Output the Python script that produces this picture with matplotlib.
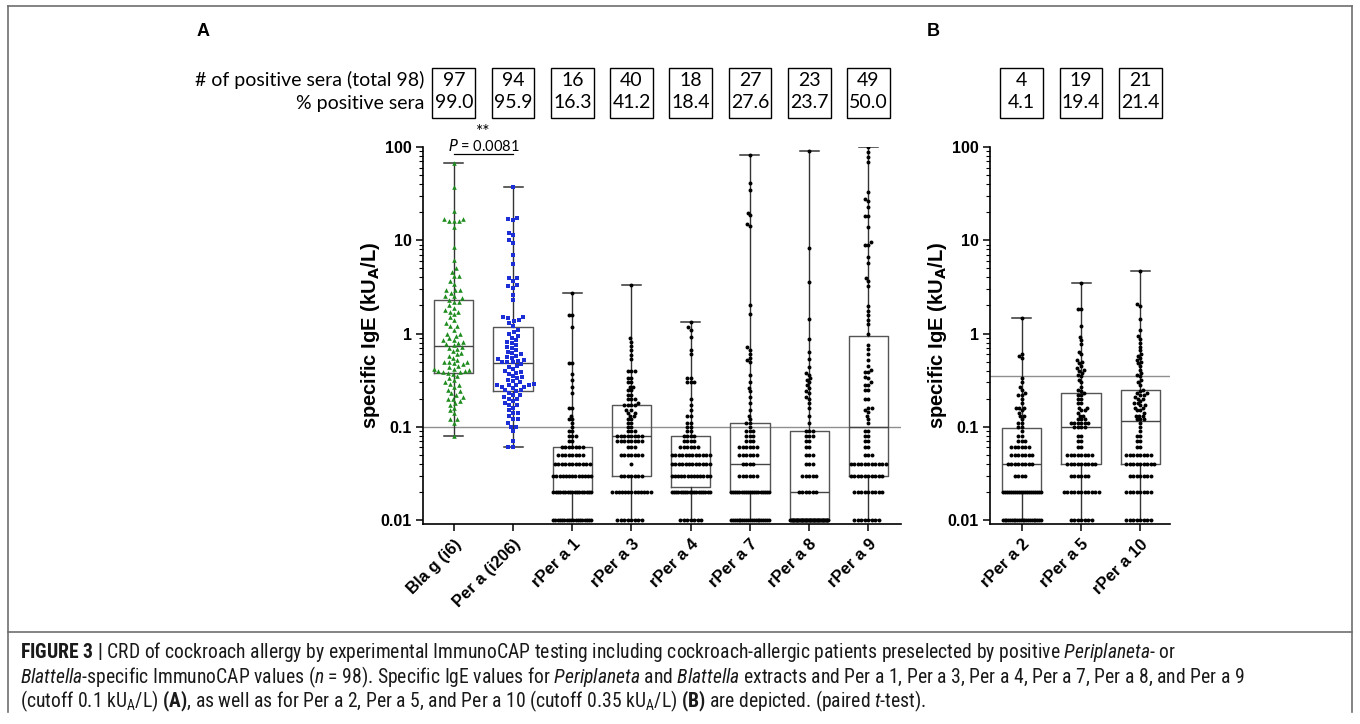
import numpy as np
import matplotlib
matplotlib.use("Agg")
import matplotlib.pyplot as plt
from matplotlib import font_manager
from matplotlib.patches import Rectangle
from matplotlib.transforms import blended_transform_factory
from matplotlib.ticker import FixedLocator, LogLocator, NullFormatter

# ---------------- data ----------------
cats_a = ["Bla g (i6)", "Per a (i206)", "rPer a 1", "rPer a 3", "rPer a 4",
          "rPer a 7", "rPer a 8", "rPer a 9"]
cats_b = ["rPer a 2", "rPer a 5", "rPer a 10"]

n_pos_a = [97, 94, 16, 40, 18, 27, 23, 49]
pct_pos_a = [99.0, 95.9, 16.3, 41.2, 18.4, 27.6, 23.7, 50.0]
n_pos_b = [4, 19, 21]
pct_pos_b = [4.1, 19.4, 21.4]

cutoff_a = 0.1
cutoff_b = 0.35

bla_g = [68, 37.5, 20.6, 17, 17, 16, 16, 16, 14, 8.5, 6.2, 5.0, 4.6, 4.1, 4.1, 3.7,
         3.4, 2.9, 2.9, 2.9, 2.75, 2.5, 2.5, 2.4,
         2.3, 2.2, 2.2, 2.0, 1.9, 1.8, 1.7, 1.7, 1.6, 1.5, 1.4, 1.3, 1.2, 1.2, 1.1,
         1.0, 1.0, 0.95, 0.9, 0.85, 0.85, 0.82, 0.8, 0.78,
         0.75, 0.72, 0.7, 0.68, 0.65, 0.62, 0.6, 0.58, 0.55, 0.52, 0.5, 0.5, 0.5,
         0.48, 0.47, 0.45, 0.44, 0.42, 0.42, 0.41, 0.4, 0.4, 0.39, 0.39, 0.38,
         0.37, 0.35, 0.33, 0.32, 0.3, 0.29, 0.28, 0.27, 0.25, 0.24, 0.23, 0.22,
         0.21, 0.2, 0.2, 0.19, 0.18, 0.17, 0.16, 0.15, 0.14, 0.12, 0.12, 0.11, 0.08]

per_a = [37, 17.5, 17, 16.5, 12, 11.5, 10, 9.3, 6.9, 5.5, 3.9, 3.9, 3.7, 3.3, 3.2,
         3.1, 2.6, 2.3, 1.5, 1.5, 1.45, 1.4, 1.35, 1.3,
         1.2, 1.1, 1.05, 1.0, 0.95, 0.9, 0.85, 0.82, 0.8, 0.75, 0.72, 0.7, 0.66,
         0.64, 0.62, 0.6, 0.58, 0.56, 0.55, 0.53, 0.52, 0.51, 0.5, 0.49,
         0.49, 0.47, 0.45, 0.44, 0.42, 0.4, 0.39, 0.38, 0.37, 0.35, 0.34, 0.33,
         0.32, 0.31, 0.3, 0.29, 0.28, 0.28, 0.28, 0.28, 0.27, 0.27, 0.26, 0.25, 0.25,
         0.24, 0.23, 0.22, 0.22, 0.21, 0.2, 0.2, 0.19, 0.18, 0.17, 0.17, 0.16, 0.15,
         0.14, 0.14, 0.13, 0.12, 0.12, 0.11, 0.1, 0.1, 0.09, 0.07, 0.06, 0.06]

rper_a1 = ([0.01] * 18 + [0.02] * 17 + [0.03] * 13 + [0.04] * 11 + [0.05] * 8
           + [0.06] * 7 + [0.07] * 2 + [0.08] * 3 + [0.09] * 2 + [0.1]
           + [0.11, 0.12, 0.12, 0.13, 0.16, 0.16, 0.23, 0.27, 0.32, 0.37, 0.48,
              0.48, 1.18, 1.58, 1.58, 2.7])

rper_a3 = ([0.01] * 8 + [0.02] * 13 + [0.03] * 7 + [0.04] + [0.05] * 7
           + [0.06] * 3 + [0.07] * 8 + [0.08] * 8 + [0.09] * 3
           + [0.1] * 2 + [0.11] * 2 + [0.12] * 2 + [0.13] * 2 + [0.14] * 2
           + [0.15] * 2 + [0.17] * 4
           + [0.18, 0.2, 0.2, 0.2, 0.22, 0.22, 0.25, 0.25, 0.27, 0.27, 0.3, 0.3,
              0.33, 0.33, 0.4, 0.4, 0.4, 0.53, 0.59, 0.66, 0.73, 0.82, 0.89, 3.3])

rper_a4 = ([0.01] * 7 + [0.02] * 18 + [0.03] * 13 + [0.04] * 12 + [0.05] * 12
           + [0.06] * 6 + [0.07] * 4 + [0.08] * 4 + [0.09] * 2 + [0.1] * 2
           + [0.11, 0.11, 0.13, 0.13, 0.15, 0.17, 0.2, 0.3, 0.3, 0.3, 0.33, 0.33,
              0.6, 0.67, 0.91, 1.1, 1.17, 1.32])

rper_a7 = ([0.01] * 21 + [0.02] * 19 + [0.03] * 6 + [0.04] * 4 + [0.05] * 6
           + [0.06] * 6 + [0.07] * 3 + [0.08] * 3 + [0.09] * 3
           + [0.1, 0.11, 0.11, 0.12, 0.13, 0.15, 0.18, 0.21, 0.24, 0.26, 0.3, 0.36,
              0.5, 0.52, 0.55, 0.61, 0.67, 0.71, 1.6, 2.0, 14.2, 15.1, 18.6, 19.8,
              35, 41, 82])

rper_a8 = ([0.01] * 48 + [0.02] * 6 + [0.03] * 5 + [0.04] * 3 + [0.05] * 3
           + [0.06] * 2 + [0.07] * 2 + [0.08] * 3 + [0.09] * 3
           + [0.11, 0.13, 0.16, 0.18, 0.2, 0.21, 0.23, 0.24, 0.26, 0.28, 0.3, 0.32,
              0.33, 0.36, 0.38, 0.44, 0.53, 0.63, 0.88, 1.43, 3.6, 8.3, 91])

rper_a9 = ([0.01] * 8 + [0.02] * 9 + [0.03] * 10 + [0.04] * 11 + [0.05] * 3
           + [0.06] * 2 + [0.07] * 2 + [0.08] * 2 + [0.09] * 2
           + [0.11, 0.12, 0.13, 0.145, 0.15, 0.16, 0.16, 0.2, 0.2, 0.245, 0.245,
              0.28, 0.28, 0.3, 0.33, 0.34, 0.39, 0.39, 0.41, 0.45, 0.52, 0.6, 0.68,
              0.75, 0.99, 1.27, 1.39, 1.58, 1.75, 1.96, 3.2, 3.7, 3.9, 5.7, 6.6,
              8.9, 9, 9.5, 14, 18, 18, 23, 26.5, 27.5, 33, 69, 79, 89, 100])

rper_a2 = ([0.01] * 22 + [0.02] * 20 + [0.03] * 4 + [0.04] * 8 + [0.05] * 7
           + [0.06] * 6 + [0.07] * 3 + [0.08] * 2 + [0.09]
           + [0.1, 0.1, 0.11, 0.11, 0.12, 0.13, 0.13, 0.14, 0.15, 0.16, 0.16, 0.16,
              0.18, 0.2, 0.22, 0.22, 0.23, 0.25, 0.27, 0.3, 0.33, 0.55, 0.57, 0.6,
              1.46])

rper_a5 = ([0.01] * 7 + [0.02] * 11 + [0.03] * 6 + [0.04] * 9 + [0.05] * 8
           + [0.06] * 2 + [0.07] * 2 + [0.08] * 2
           + [0.1] * 4 + [0.11] * 6 + [0.12] * 3 + [0.13] * 2 + [0.14]
           + [0.15] * 2 + [0.16] * 2 + [0.18] * 2 + [0.2] * 2 + [0.22] * 2
           + [0.23, 0.24, 0.25, 0.27, 0.3, 0.32]
           + [0.35, 0.36, 0.38, 0.4, 0.41, 0.43, 0.45, 0.48, 0.5, 0.52, 0.6, 0.64,
              0.77, 0.85, 0.92, 1.2, 1.82, 1.82, 3.45])

rper_a10 = ([0.01] * 8 + [0.02] * 8 + [0.03] * 7 + [0.04] * 9 + [0.05] * 8
            + [0.06] * 2 + [0.07] * 2 + [0.08] * 2 + [0.09]
            + [0.1, 0.11, 0.12, 0.12, 0.12, 0.13, 0.13, 0.13, 0.14, 0.15, 0.15,
               0.16, 0.16, 0.17, 0.17, 0.18, 0.18, 0.19, 0.2, 0.2, 0.21, 0.22,
               0.22, 0.23, 0.23, 0.24, 0.25, 0.28, 0.3, 0.32]
            + [0.35, 0.36, 0.38, 0.41, 0.45, 0.48, 0.5, 0.52, 0.55, 0.58, 0.6,
               0.66, 0.72, 0.8, 0.88, 0.93, 1.09, 1.43, 1.98, 2.07, 4.7])

groups_a = [bla_g, per_a, rper_a1, rper_a3, rper_a4, rper_a7, rper_a8, rper_a9]
groups_b = [rper_a2, rper_a5, rper_a10]


# ---------------- fonts ----------------
def pick_caption_font():
    ttf = font_manager.fontManager.ttflist
    for want in ["Liberation Sans Narrow", "Roboto Condensed", "Noto Sans Condensed",
                 "Open Sans Condensed", "DejaVu Sans Condensed"]:
        if any(f.name == want for f in ttf):
            return want, "normal"
    for want in ["Noto Sans", "Roboto", "Open Sans", "DejaVu Sans"]:
        for f in ttf:
            if f.name == want and f.stretch in ("condensed", "semi-condensed"):
                return want, f.stretch
    return "Liberation Sans", "normal"


cap_font, cap_stretch = pick_caption_font()
pat = cap_font if cap_stretch == "normal" else cap_font + ":" + cap_stretch
plt.rcParams["font.family"] = ["Liberation Sans", "DejaVu Sans"]
plt.rcParams["mathtext.fontset"] = "custom"
plt.rcParams["mathtext.rm"] = pat
plt.rcParams["mathtext.it"] = pat + ":italic"
plt.rcParams["mathtext.bf"] = pat + ":bold"

W, H = 1360, 724
fig = plt.figure(figsize=(W / 100, H / 100), dpi=100)

# overlay in pixel coordinates for frame, headers and caption
ov = fig.add_axes([0, 0, 1, 1])
ov.set_xlim(0, W)
ov.set_ylim(H, 0)
ov.axis("off")
ov.patch.set_visible(False)

PX_DEC = 93.25   # pixels per decade on the y axis
PX_CAT = 59.2    # pixels between categories
ylo = 10 ** (-2 - 4 / PX_DEC)
bottom = 1 - 524 / H
height = (524 - 147) / H
ax_a = fig.add_axes([423 / W, bottom, 478 / W, height])
ax_b = fig.add_axes([990 / W, bottom, 180 / W, height])


def swarm(vals, d=3.4, maxw=38.0):
    """beeswarm offsets (category units); long rows of equal values get squeezed"""
    v = np.asarray(vals, float)
    y = np.log10(v) * PX_DEC
    xs = np.zeros(len(v))
    px, py = [], []
    for i in np.argsort(y, kind="stable"):
        near = [(a, b) for a, b in zip(px, py) if abs(b - y[i]) < d]
        cands = [0.0]
        for a, b in near:
            h = np.sqrt(d * d - (b - y[i]) ** 2)
            cands += [a - h, a + h]
        cands.sort(key=abs)
        for c in cands:
            if all((c - a) ** 2 + (y[i] - b) ** 2 >= d * d - 1e-6 for a, b in near):
                break
        xs[i] = c
        px.append(c)
        py.append(y[i])
    for u in np.unique(v):
        idx = np.where(v == u)[0]
        n = len(idx)
        if n > 1 and (n - 1) * d > maxw:
            xs[idx] = (np.arange(n) - (n - 1) / 2) * maxw / (n - 1)
    return xs / PX_CAT


def panel(ax, groups, cats, cutoff, styles, xr):
    ax.axhline(cutoff, color="#8f8f8f", lw=1.0, zorder=1)
    ax.boxplot(groups, positions=range(len(groups)), widths=0.66, whis=(0, 100),
               showfliers=False, capwidths=0.32, manage_ticks=False,
               boxprops=dict(color="#555555", lw=1.0),
               whiskerprops=dict(color="#333333", lw=1.0),
               capprops=dict(color="#333333", lw=1.1),
               medianprops=dict(color="#444444", lw=1.0), zorder=2)
    for i, (g, (mk, col, s, d)) in enumerate(zip(groups, styles)):
        ax.scatter(i + swarm(g, d=d), g, marker=mk, color=col, s=s, linewidths=0,
                   zorder=3)
    ax.set_yscale("log")
    ax.set_ylim(ylo, 100)
    ax.set_xlim(*xr)
    ax.yaxis.set_major_locator(FixedLocator([0.01, 0.1, 1, 10, 100]))
    ax.set_yticklabels(["0.01", "0.1", "1", "10", "100"])
    ax.yaxis.set_minor_locator(LogLocator(base=10, subs=np.arange(2, 10)))
    ax.yaxis.set_minor_formatter(NullFormatter())
    ax.set_xticks(range(len(cats)))
    ax.set_xticklabels(cats, rotation=45, ha="right", rotation_mode="anchor",
                       fontsize=12, fontweight="bold")
    for lab in ax.get_yticklabels():
        lab.set_fontweight("bold")
        lab.set_fontsize(11.5)
    for sp in ["top", "right"]:
        ax.spines[sp].set_visible(False)
    for sp in ["left", "bottom"]:
        ax.spines[sp].set_linewidth(1.2)
    ax.tick_params(axis="y", which="major", length=5, width=1.1, pad=3)
    ax.tick_params(axis="y", which="minor", length=3, width=0.8)
    ax.tick_params(axis="x", length=5, width=1.1, pad=4)
    ax.set_ylabel(r"specific IgE (kU$_\mathbf{A}$/L)", fontsize=14.5,
                  fontweight="bold", math_fontfamily="dejavusans", labelpad=-1)
    ax.patch.set_visible(False)


black = ("o", "black", 8, 3.5)
panel(ax_a, groups_a, cats_a, cutoff_a,
      [("^", "#1e8c1e", 11, 5.0), ("s", "#1c2fd6", 9, 4.8)] + [black] * 6,
      (-0.52, 7.55))
panel(ax_b, groups_b, cats_b, cutoff_b, [black] * 3, (-0.535, 2.5))

# header boxes
hdr = dict(fontfamily=["Lato", "DejaVu Sans"], fontsize=14, va="center")
ov.text(424, 80, "# of positive sera (total 98)", ha="right", **hdr)
ov.text(424, 103, "% positive sera", ha="right", **hdr)
for ax, counts, pcts in [(ax_a, n_pos_a, pct_pos_a), (ax_b, n_pos_b, pct_pos_b)]:
    tr = blended_transform_factory(ax.transData, ov.transData)
    for i, (c, p) in enumerate(zip(counts, pcts)):
        ov.add_patch(Rectangle((i - 0.36, 68), 0.72, 50, transform=tr, fill=False,
                               edgecolor="black", lw=1.0, clip_on=False))
        ov.text(i, 80, str(c), transform=tr, ha="center", **hdr)
        ov.text(i, 103, "%.1f" % p, transform=tr, ha="center", **hdr)

# significance
tr = blended_transform_factory(ax_a.transData, ov.transData)
ov.text(0.5, 132, "**", transform=tr, ha="center", va="center", fontsize=12.5,
        fontfamily=["Lato", "DejaVu Sans"])
ov.text(0.5, 146, r"$\it{P}$ = 0.0081", transform=tr, ha="center", va="center",
        fontsize=10.5, fontfamily=["Lato", "DejaVu Sans"], math_fontfamily="dejavusans")
ov.plot([0, 1], [154, 154], transform=tr, color="black", lw=0.9, clip_on=False)

# panel letters
ov.text(203, 32, "A", fontsize=13, fontweight="bold", ha="center", va="center")
ov.text(933, 32, "B", fontsize=13, fontweight="bold", ha="center", va="center")

# frame
fc = "#6e6e6e"
ov.plot([8, 1352], [6, 6], color=fc, lw=1.2)
ov.plot([8, 1352], [632, 632], color=fc, lw=1.2)
ov.plot([8, 8], [6, 712], color=fc, lw=1.2)
ov.plot([1352, 1352], [6, 712], color=fc, lw=1.2)

# caption
cap_lines = [
    r"$\mathbf{FIGURE\ 3\ |}$ CRD of cockroach allergy by experimental ImmunoCAP testing "
    r"including cockroach-allergic patients preselected by positive $\mathit{Periplaneta}$- or",
    r"$\mathit{Blattella}$-specific ImmunoCAP values ($\mathit{n}$ = 98). Specific IgE values "
    r"for $\mathit{Periplaneta}$ and $\mathit{Blattella}$ extracts and Per a 1, Per a 3, "
    r"Per a 4, Per a 7, Per a 8, and Per a 9",
    r"(cutoff 0.1 kU$_\mathrm{A}$/L) $\mathbf{(A)}$, as well as for Per a 2, Per a 5, and "
    r"Per a 10 (cutoff 0.35 kU$_\mathrm{A}$/L) $\mathbf{(B)}$ are depicted. "
    r"(paired $\mathit{t}$-test).",
]
cap_y = [652, 677, 701]
caps = [ov.text(20, y, s, fontfamily=cap_font, fontstretch=cap_stretch, fontsize=12,
                ha="left", va="center", color="#1a1a1a")
        for y, s in zip(cap_y, cap_lines)]
r = fig.canvas.get_renderer()
w = caps[1].get_window_extent(r).width
for t in caps:
    t.set_fontsize(12 * 1220 / w)

fig.savefig("out.png", dpi=100)
